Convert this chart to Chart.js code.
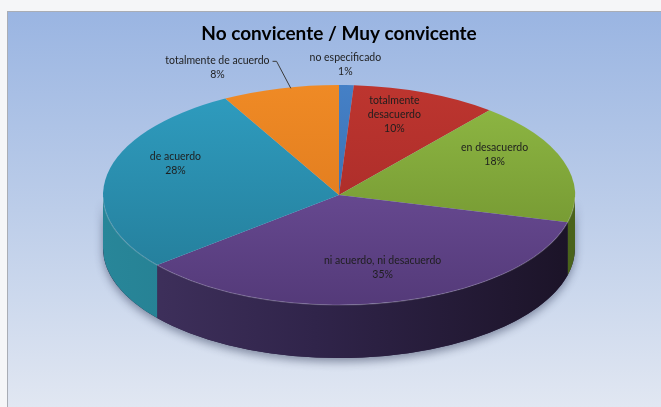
<!DOCTYPE html>
<html>
<head>
<meta charset="utf-8">
<script src="https://cdn.jsdelivr.net/npm/chart.js@4.4.1/dist/chart.umd.min.js"></script>
<style>
  html, body { margin: 0; padding: 0; width: 661px; height: 407px; overflow: hidden; background: #f5f6f8; }
  #frame {
    position: absolute; left: 7px; top: 11px; right: 0; bottom: 0;
    border-left: 1px solid #a9adb5; border-top: 1px solid #a9adb5;
    background: linear-gradient(to bottom, #9ab5e2 0%, #bccde9 50%, #e1e7f2 100%);
  }
  #chart { position: absolute; left: 0; top: 0; }
</style>
</head>
<body>
<div id="frame"></div>
<canvas id="chart" width="661" height="407"></canvas>
<script>
// Survey answers and their share of responses (%)
const categories = [
  'no especificado',
  'totalmente desacuerdo',
  'en desacuerdo',
  'ni acuerdo, ni desacuerdo',
  'de acuerdo',
  'totalmente de acuerdo'
];
const percentages = [1, 10, 18, 35, 28, 8];
const chartTitle = 'No convicente / Muy convicente';

// Top-face gradient (light, dark) and side-wall gradient (light, mid, dark) per slice
const topColors = [
  ['#4580c6', '#3266a8'],
  ['#bd352f', '#a02826'],
  ['#90ba45', '#6a8a2a'],
  ['#7756a5', '#543a79'],
  ['#2f9dc0', '#237a96'],
  ['#ef8a25', '#d8741b']
];
const sideColors = [
  ['#2a5286', '#24487a', '#1f3e66'],
  ['#7d1f1c', '#6e1b19', '#5e1715'],
  ['#5f7d25', '#567120', '#4a631b'],
  ['#423360', '#30244a', '#1b1327'],
  ['#288699', '#22788a', '#1c6a7a'],
  ['#b05d15', '#9d5313', '#8a4810']
];

const DEPTH = 53;        // height of the pie's side wall
const TILT = 0.2;        // perspective strength used for label anchoring
const LABEL_FONT = '10.5px Lato';
const LABEL_LH = 14;

function pieGeometry(chart) {
  const arc = chart.getDatasetMeta(0).data[0];
  const ca = chart.chartArea;
  return {
    x: arc.x, y: arc.y, r: arc.outerRadius,
    sx: (ca.width / 2) / arc.outerRadius,
    sy: (ca.height / 2) / arc.outerRadius
  };
}

// Map a point of the (round) pie onto the tilted, perspective view
function project(g, angle, f) {
  const c = TILT, rx = g.r * g.sx, ry = g.r * g.sy;
  const u = f * Math.cos(angle), v = f * Math.sin(angle);
  const w = 1 - c * v;
  return {
    x: g.x + rx * Math.sqrt(1 - c * c) * u / w,
    y: g.y - ry * c + ry * (1 - c * c) * v / w
  };
}

function wrapText(ctx, text, maxW) {
  const words = text.split(' ');
  const lines = [];
  let cur = '';
  for (const w of words) {
    const t = cur ? cur + ' ' + w : w;
    if (cur && ctx.measureText(t).width > maxW) { lines.push(cur); cur = w; }
    else cur = t;
  }
  if (cur) lines.push(cur);
  return lines;
}

const tiltedPie = {
  id: 'tiltedPie',
  beforeDatasetsDraw(chart) {
    const ctx = chart.ctx;
    const g = pieGeometry(chart);
    const d = DEPTH / g.sy;
    ctx.save();
    ctx.translate(g.x, g.y);
    ctx.scale(g.sx, g.sy);
    ctx.translate(-g.x, -g.y);

    // soft shadow of the whole front wall
    ctx.save();
    ctx.shadowColor = 'rgba(30,40,70,0.45)';
    ctx.shadowBlur = 9;
    ctx.shadowOffsetY = 4;
    ctx.beginPath();
    ctx.arc(g.x, g.y, g.r, 0, Math.PI);
    ctx.lineTo(g.x - g.r, g.y + d);
    ctx.arc(g.x, g.y + d, g.r, Math.PI, 0, true);
    ctx.closePath();
    ctx.fillStyle = '#2a2040';
    ctx.fill();
    ctx.restore();

    // side wall of each slice where it faces the viewer
    chart.getDatasetMeta(0).data.forEach((arc, i) => {
      const a0 = Math.max(arc.startAngle, 0);
      const a1 = Math.min(arc.endAngle, Math.PI);
      if (a1 <= a0) return;
      const grad = ctx.createLinearGradient(g.x - g.r, 0, g.x + g.r, 0);
      grad.addColorStop(0, sideColors[i][0]);
      grad.addColorStop(0.45, sideColors[i][1]);
      grad.addColorStop(1, sideColors[i][2]);
      ctx.beginPath();
      ctx.arc(g.x, g.y, g.r, a0, a1);
      ctx.lineTo(g.x + g.r * Math.cos(a1), g.y + d + g.r * Math.sin(a1));
      ctx.arc(g.x, g.y + d, g.r, a1, a0, true);
      ctx.closePath();
      ctx.fillStyle = grad;
      ctx.fill();
    });
  },
  afterDatasetsDraw(chart) {
    const ctx = chart.ctx;
    const g = pieGeometry(chart);
    // light rim along the front edge of the top face
    ctx.beginPath();
    ctx.arc(g.x, g.y, g.r, 0.02, Math.PI - 0.02);
    ctx.setTransform(1, 0, 0, 1, 0, 0);
    ctx.strokeStyle = 'rgba(255,255,255,0.2)';
    ctx.lineWidth = 1.2;
    ctx.stroke();
    ctx.restore();

    // data labels
    ctx.save();
    ctx.font = LABEL_FONT;
    ctx.fillStyle = '#1e1e1e';
    ctx.textAlign = 'center';
    ctx.textBaseline = 'middle';
    const placed = [];
    const arcs = chart.getDatasetMeta(0).data;
    arcs.forEach((arc, i) => {
      const pct = percentages[i];
      const mid = (arc.startAngle + arc.endAngle) / 2;
      if (pct >= 9) {
        const lines = pct < 15 ? wrapText(ctx, categories[i], 60) : [categories[i]];
        lines.push(pct + '%');
        const p = project(g, mid, 0.74);
        const y0 = p.y + 5 - (lines.length - 1) * LABEL_LH / 2;
        lines.forEach((t, k) => ctx.fillText(t, p.x, y0 + k * LABEL_LH));
        return;
      }
      const lines = [categories[i], pct + '%'];
      const edge = project(g, mid, 1);
      const w = Math.max(...lines.map(t => ctx.measureText(t).width));
      let cx = edge.x + Math.cos(mid) * 10;
      const lastY = edge.y - 13;
      const firstY = lastY - (lines.length - 1) * LABEL_LH;
      let shifted = false;
      placed.forEach(b => {
        if (cx + w / 2 > b.left && cx - w / 2 < b.right) {
          if (cx < (b.left + b.right) / 2) cx = b.left - 40 - w / 2;
          else cx = b.right + 40 + w / 2;
          shifted = true;
        }
      });
      lines.forEach((t, k) => ctx.fillText(t, cx, firstY + k * LABEL_LH));
      placed.push({ left: cx - w / 2, right: cx + w / 2 });
      if (shifted) {
        const fw = ctx.measureText(lines[0]).width;
        const sx = cx < edge.x ? cx + fw / 2 + 3 : cx - fw / 2 - 3;
        const dir = cx < edge.x ? 1 : -1;
        ctx.beginPath();
        ctx.moveTo(sx, firstY + 1);
        ctx.lineTo(sx + dir * 4, firstY + 1);
        ctx.lineTo(edge.x, edge.y + 1);
        ctx.strokeStyle = '#3a3a3a';
        ctx.lineWidth = 1;
        ctx.stroke();
      }
    });
    ctx.restore();
  }
};

function faceColor(i) {
  return (c) => {
    const ch = c.chart, ca = ch.chartArea;
    if (!ca) return topColors[i][0];
    const gr = ch.ctx.createLinearGradient(0, ca.top, 0, ca.bottom);
    gr.addColorStop(0, topColors[i][0]);
    gr.addColorStop(1, topColors[i][1]);
    return gr;
  };
}

new Chart(document.getElementById('chart'), {
  type: 'pie',
  data: {
    labels: categories,
    datasets: [{
      data: percentages,
      backgroundColor: (c) => faceColor(c.dataIndex)(c),
      borderWidth: 0,
      clip: false
    }]
  },
  options: {
    responsive: false,
    animation: false,
    layout: { padding: { left: 103, right: 86, top: 0, bottom: 102 } },
    plugins: {
      legend: { display: false },
      tooltip: { enabled: false },
      title: {
        display: true,
        text: chartTitle,
        color: '#000000',
        font: { family: 'Lato', size: 19, weight: 'bold', lineHeight: 1.2 },
        padding: { top: 22, bottom: 40.2 }
      }
    }
  },
  plugins: [tiltedPie]
});
</script>
</body>
</html>
